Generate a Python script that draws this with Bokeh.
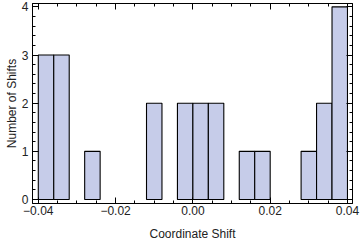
from bokeh.plotting import figure
from bokeh.models import (ColumnDataSource, LinearAxis, FixedTicker, CustomJSTickFormatter, Range1d)
from bokeh.embed import file_html
from bokeh.resources import INLINE

# Histogram data (bin width 0.004)
bin_left = [-0.040, -0.036, -0.032, -0.028, -0.024, -0.020, -0.016, -0.012, -0.008, -0.004,
            0.000, 0.004, 0.008, 0.012, 0.016, 0.020, 0.024, 0.028, 0.032, 0.036]
bin_right = [-0.036, -0.032, -0.028, -0.024, -0.020, -0.016, -0.012, -0.008, -0.004, 0.000,
             0.004, 0.008, 0.012, 0.016, 0.020, 0.024, 0.028, 0.032, 0.036, 0.040]
counts = [3, 3, 0, 1, 0, 0, 0, 2, 0, 2, 2, 2, 0, 1, 1, 0, 0, 1, 2, 4]

x_ticks = [-0.04, -0.02, 0.0, 0.02, 0.04]
x_minor = [-0.04, -0.035, -0.03, -0.025, -0.02, -0.015, -0.01, -0.005, 0.0, 0.005,
           0.01, 0.015, 0.02, 0.025, 0.03, 0.035, 0.04]
y_ticks = [0, 1, 2, 3, 4]
y_minor = [i / 5 for i in range(0, 21)]

keep = [i for i, c in enumerate(counts) if c > 0]
src = ColumnDataSource(dict(
    left=[bin_left[i] for i in keep],
    right=[bin_right[i] for i in keep],
    top=[counts[i] for i in keep],
    bottom=[0] * len(keep),
))

FONT = "Liberation Sans"

p = figure(width=360, height=243, output_backend="svg", toolbar_location=None,
           x_range=Range1d(-0.0415, 0.0413), y_range=Range1d(-0.083, 4.07),
           x_axis_location=None, y_axis_location=None,
           min_border_left=32, min_border_right=8, min_border_top=3, min_border_bottom=40)
p.xgrid.visible = False
p.ygrid.visible = False
p.outline_line_color = "black"
p.outline_line_width = 1
p.background_fill_color = "white"
p.border_fill_color = "white"

p.quad(left="left", right="right", top="top", bottom="bottom", source=src,
       fill_color="#c6cce9", line_color="black", line_width=1.1)

fmt = CustomJSTickFormatter(code="""
return (tick < -1e-9 ? '\u2212' : '') + Math.abs(tick).toFixed(2);
""")
blank = CustomJSTickFormatter(code="return '';")

def style(ax, labels=True):
    ax.axis_line_color = "black"
    ax.major_tick_line_color = "black"
    ax.minor_tick_line_color = "black"
    ax.major_tick_in = 6
    ax.major_tick_out = 0
    ax.minor_tick_in = 3
    ax.minor_tick_out = 0
    ax.major_label_text_font = FONT
    ax.major_label_text_font_size = "12px"
    ax.major_label_text_color = "#222222"
    ax.axis_label_text_font = FONT
    ax.axis_label_text_font_size = "12px"
    ax.axis_label_text_font_style = "normal"
    ax.axis_label_text_color = "#222222"
    if not labels:
        ax.formatter = blank
        ax.major_label_standoff = 0

xb = LinearAxis(ticker=FixedTicker(ticks=x_ticks, minor_ticks=x_minor), formatter=fmt,
                axis_label="Coordinate Shift")
style(xb)
xb.major_label_standoff = 2
xb.axis_label_standoff = 9
p.add_layout(xb, "below")

yl = LinearAxis(ticker=FixedTicker(ticks=y_ticks, minor_ticks=y_minor),
                axis_label="Number of Shifts")
style(yl)
yl.major_label_standoff = 4
yl.axis_label_standoff = 0
p.add_layout(yl, "left")

xt = LinearAxis(ticker=FixedTicker(ticks=x_ticks, minor_ticks=x_minor))
style(xt, labels=False)
p.add_layout(xt, "above")

yr = LinearAxis(ticker=FixedTicker(ticks=y_ticks, minor_ticks=y_minor))
style(yr, labels=False)
p.add_layout(yr, "right")

open("out.html", "w").write(file_html(p, INLINE))
